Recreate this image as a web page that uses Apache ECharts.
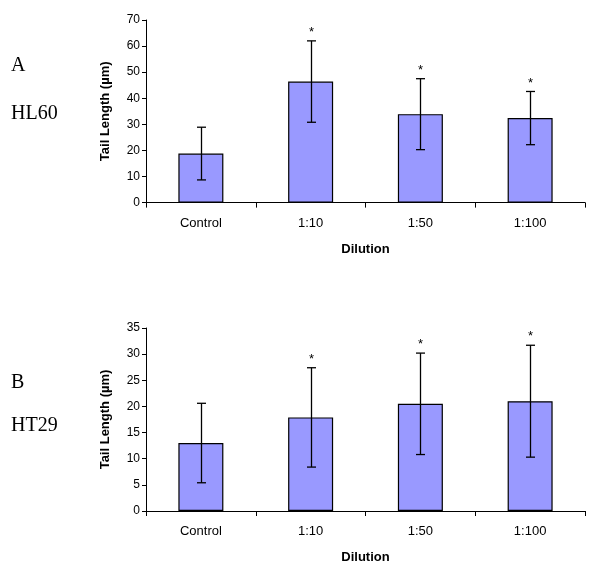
<!DOCTYPE html>
<html><head><meta charset="utf-8">
<script src="https://cdn.jsdelivr.net/npm/echarts@6/dist/echarts.min.js"></script>
<style>html,body{margin:0;padding:0;background:#fff}#c{width:600px;height:570px}</style>
</head><body><div id="c"></div>
<script>
var categories = ['Control', '1:10', '1:50', '1:100'];
var hl60Mean = [18.8, 46.4, 33.9, 32.4];
var hl60Err = [10.1, 15.6, 13.6, 10.2];
var ht29Mean = [13.0, 17.9, 20.5, 21.0];
var ht29Err = [7.6, 9.5, 9.7, 10.7];
var sig = [false, true, true, true];
var hl60Ticks = [0, 70, 10];
var ht29Ticks = [0, 35, 5];

var chart = echarts.init(document.getElementById('c'), null, {renderer: 'canvas'});
var sans = 'Liberation Sans, Arial, sans-serif';

function xAx(gi) {
  return {
    type: 'category', gridIndex: gi, data: categories,
    axisLine: {lineStyle: {color: '#000', width: 1}},
    axisTick: {show: true, alignWithLabel: false, length: 5, lineStyle: {color: '#000'}},
    axisLabel: {margin: 14, fontFamily: sans, fontSize: 13, color: '#000'},
    name: 'Dilution', nameLocation: 'middle', nameGap: 40,
    nameTextStyle: {fontFamily: sans, fontWeight: 'bold', fontSize: 13, color: '#000'}
  };
}
function yAx(gi, t) {
  return {
    type: 'value', gridIndex: gi, min: t[0], max: t[1], interval: t[2],
    axisLine: {show: true, lineStyle: {color: '#000', width: 1}},
    axisTick: {show: true, length: 4, lineStyle: {color: '#000'}},
    splitLine: {show: false},
    axisLabel: {margin: 6, fontFamily: sans, fontSize: 12, color: '#000'},
    name: 'Tail Length (\u00b5m)', nameLocation: 'middle', nameGap: 34,
    nameTextStyle: {fontFamily: sans, fontWeight: 'bold', fontSize: 13, color: '#000'}
  };
}
function barSeries(gi, vals) {
  return {
    type: 'bar', xAxisIndex: gi, yAxisIndex: gi, data: vals, barWidth: 45,
    itemStyle: {color: '#9999FF', borderColor: '#000', borderWidth: 1.2},
    silent: true, animation: false
  };
}
function errSeries(gi, means, errs) {
  var d = means.map(function (m, i) { return [i, m - errs[i], m + errs[i], sig[i] ? 1 : 0]; });
  return {
    type: 'custom', xAxisIndex: gi, yAxisIndex: gi, data: d, animation: false, silent: true, z: 10,
    renderItem: function (params, api) {
      var x = api.value(0);
      var lo = api.coord([x, api.value(1)]);
      var hi = api.coord([x, api.value(2)]);
      var cx = Math.round(lo[0]) + 0.5;
      var capW = 4.5;
      var st = {stroke: '#000', lineWidth: 1.3};
      var kids = [
        {type: 'line', shape: {x1: cx, y1: lo[1], x2: cx, y2: hi[1]}, style: st},
        {type: 'line', shape: {x1: cx - capW, y1: lo[1], x2: cx + capW, y2: lo[1]}, style: st},
        {type: 'line', shape: {x1: cx - capW, y1: hi[1], x2: cx + capW, y2: hi[1]}, style: st}
      ];
      if (api.value(3)) {
        kids.push({type: 'text', style: {text: '*', x: cx, y: hi[1] - 2, textAlign: 'center', textVerticalAlign: 'bottom',
          fontFamily: sans, fontSize: 13, fill: '#000'}});
      }
      return {type: 'group', children: kids};
    }
  };
}

var serifStyle = {fontFamily: 'Liberation Serif, Times New Roman, serif', fontSize: 20, fill: '#000'};
chart.setOption({
  animation: false,
  grid: [
    {left: 146, right: 15, top: 20, height: 182.6},
    {left: 146, right: 15, top: 328, height: 183}
  ],
  xAxis: [xAx(0), xAx(1)],
  yAxis: [yAx(0, hl60Ticks), yAx(1, ht29Ticks)],
  graphic: [
    {type: 'text', left: 11, top: 56, style: Object.assign({text: 'A'}, serifStyle)},
    {type: 'text', left: 11, top: 104, style: Object.assign({text: 'HL60'}, serifStyle)},
    {type: 'text', left: 11, top: 373, style: Object.assign({text: 'B'}, serifStyle)},
    {type: 'text', left: 11, top: 416, style: Object.assign({text: 'HT29'}, serifStyle)}
  ],
  series: [
    barSeries(0, hl60Mean), errSeries(0, hl60Mean, hl60Err),
    barSeries(1, ht29Mean), errSeries(1, ht29Mean, ht29Err)
  ]
});
</script></body></html>
